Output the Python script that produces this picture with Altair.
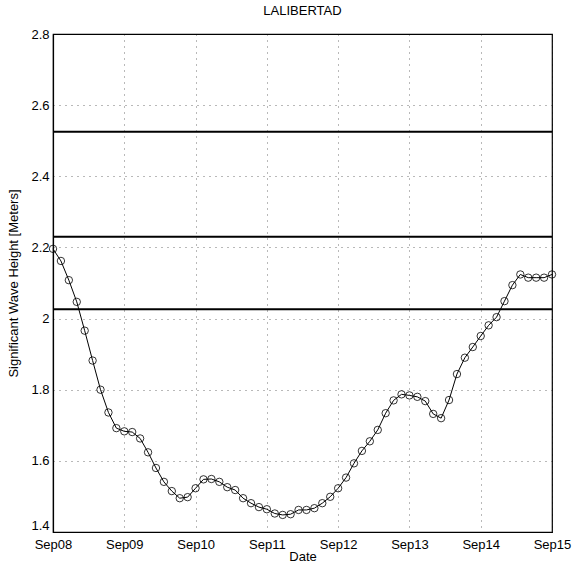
import altair as alt
import pandas as pd

# Significant wave height, one value every 160 minutes from Sep08 00:00 to Sep15 00:00
heights = [
    2.196, 2.162, 2.108, 2.047, 1.966, 1.882, 1.800, 1.736, 1.692,
    1.683, 1.681, 1.663, 1.624, 1.580, 1.541, 1.515, 1.495, 1.498,
    1.523, 1.548, 1.549, 1.541, 1.526, 1.518, 1.495, 1.481, 1.470,
    1.464, 1.452, 1.448, 1.450, 1.462, 1.462, 1.467, 1.481, 1.499,
    1.523, 1.553, 1.593, 1.628, 1.655, 1.687, 1.734, 1.770, 1.787,
    1.784, 1.780, 1.768, 1.732, 1.720, 1.771, 1.844, 1.890, 1.920,
    1.951, 1.981, 2.004, 2.049, 2.094, 2.124, 2.115, 2.115, 2.115,
    2.124,
]
thresholds = [2.525, 2.23, 2.026]
y_ticks = [1.4, 1.6, 1.8, 2.0, 2.2, 2.4, 2.6, 2.8]
day_numbers = [8, 9, 10, 11, 12, 13, 14, 15]

start = pd.Timestamp("2008-09-08")
times = [(start + pd.Timedelta(minutes=160 * i)).strftime("%Y-%m-%dT%H:%M:%S")
         for i in range(len(heights))]

df = pd.DataFrame({"time": times, "height": heights})
thr = pd.DataFrame({"level": thresholds})

FONT = "Liberation Sans"

x_scale = alt.Scale(domain=[alt.DateTime(year=2008, month=9, date=8),
                            alt.DateTime(year=2008, month=9, date=15)], nice=False)
y_scale = alt.Scale(domain=[1.4, 2.8], nice=False, zero=False)

x_axis = alt.Axis(
    values=[alt.DateTime(year=2008, month=9, date=d) for d in day_numbers],
    format="%b%d", title="Date", labelPadding=6, ticks=False, labelFlush=False,
    labelAlign="center", labelOverlap=False,
    titleX=249.5, titleY=24, titleBaseline="middle", titleAlign="center",
)
y_axis = alt.Axis(
    values=y_ticks, format=".1~f", title="Significant Wave Height [Meters]",
    labelPadding=4, ticks=False, labelFlush=False, labelOverlap=False,
    labelBaseline={"condition": {"test": "datum.value < 1.45", "value": "bottom"},
                   "value": "middle"},
    titleX=-40, titleY=249, titleAngle=270, titleAlign="center", titleBaseline="middle",
)

base = alt.Chart(df).encode(
    x=alt.X("time:T", scale=x_scale, axis=x_axis),
    y=alt.Y("height:Q", scale=y_scale, axis=y_axis),
)

line = base.mark_line(color="black", strokeWidth=1)
points = base.mark_point(shape="circle", filled=False, size=55, color="black",
                         strokeWidth=0.8, opacity=1)

rules = alt.Chart(thr).mark_rule(color="black", strokeWidth=2).encode(
    y=alt.Y("level:Q", scale=y_scale)
)

chart = alt.layer(rules, line, points).properties(
    width=499, height=498,
    title=alt.TitleParams("LALIBERTAD", anchor="middle", fontSize=13,
                          fontWeight="normal", font=FONT, offset=10, color="black"),
    autosize=alt.AutoSizeParams(type="none"),
    padding={"left": 53, "top": 34, "right": 21, "bottom": 34},
    background="white",
).configure_view(
    stroke="black", strokeWidth=1.2
).configure_axis(
    labelFont=FONT, titleFont=FONT, labelFontSize=13, titleFontSize=13,
    labelColor="black", titleColor="black", titleFontWeight="normal",
    domainColor="black", domainWidth=1.2,
    gridColor="#000000", gridOpacity=0.55, gridDash=[1, 5], gridWidth=1,
)

chart.save("out.html", embed_options={"renderer": "svg", "actions": False})
